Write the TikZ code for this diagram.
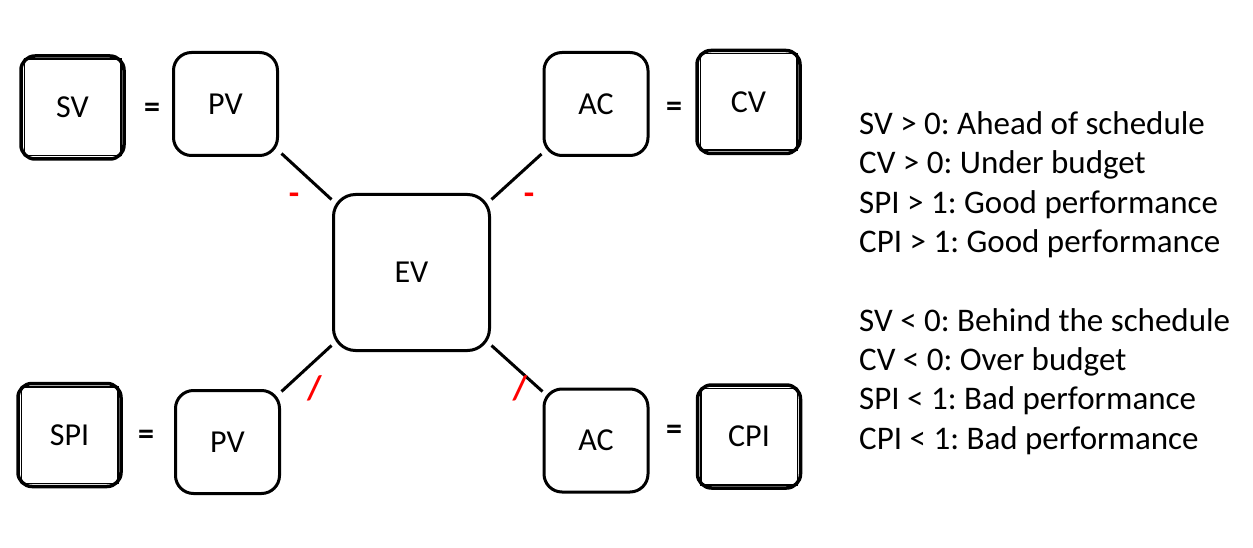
\documentclass[tikz,border=0pt]{standalone}
\usepackage{fontspec}
\setmainfont{Carlito}
\usetikzlibrary{calc}
\frenchspacing
\begin{document}
\begin{tikzpicture}[x=1pt,y=-1pt,
  rbox/.style={draw, line width=3pt, rounded corners=18pt, minimum width=104pt, minimum height=103pt, inner sep=0pt, font=\fontsize{32}{38}\selectfont},
  bigbox/.style={rbox, rounded corners=22pt, minimum width=156pt, minimum height=156pt},
  dbox/.style={rbox, line width=3.5pt, rounded corners=14pt, minimum width=103pt, minimum height=103pt},
  innerline/.style={line width=1.5pt},
  conn/.style={line width=3pt},
  eqsign/.style={font=\fontsize{32}{38}\selectfont\bfseries, inner sep=0pt},
  redsign/.style={text=red, font=\fontsize{34}{38}\selectfont\bfseries, inner sep=0pt},
  legend/.style={align=left, anchor=north west, inner sep=0pt, font=\fontsize{33}{39.3}\selectfont}
]
\useasboundingbox (0,0) rectangle (1253,548);

% top row
\node[dbox] (sv) at (72.5,107.5) {SV};
\node[eqsign] (eq1) at (152,110.5) {=};
\node[rbox] (pv1) at (225.5,104) {PV};
\node[rbox] (ac1) at (596,104) {AC};
\node[eqsign] (eq2) at (674,109) {=};
\node[dbox] (cv) at (748.5,102) {CV};

% centre
\node[bigbox] (ev) at (411.5,272.5) {EV};

% bottom row
\node[dbox] (spi) at (69.5,435) {SPI};
\node[eqsign] (eq3) at (146,437) {=};
\node[rbox] (pv2) at (227.5,442) {PV};
\node[rbox] (ac2) at (596,440.5) {AC};
\node[eqsign] (eq4) at (674,432) {=};
\node[dbox] (cpi) at (749,436.5) {CPI};

% inner lines of the double boxes
\foreach \n in {sv,cv,spi,cpi}
  \draw[innerline] ($(\n.north west)+(5,5)$) rectangle ($(\n.south east)+(-5,-5)$);

% connectors
\draw[conn] ($(pv1.south east)+(2.5,-3.5)$) -- ($(ev.north west)+(-0.5,6.5)$);
\draw[conn] ($(ev.north east)+(0.5,6.5)$) -- ($(ac1.south west)+(-1,-3)$);
\draw[conn] ($(ev.south west)+(-0.5,-6.5)$) -- ($(pv2.north east)+(0.5,2.5)$);
\draw[conn] ($(ev.south east)+(0.5,-6.5)$) -- ($(ac2.north west)+(0,4)$);

% red operators
\node[redsign] (m1) at (294,199) {-};
\node[redsign] (m2) at (529,199) {-};
\node[redsign] (d1) at (314.5,388) {/};
\node[redsign] (d2) at (520,388) {/};

% legend
\node[legend] (txt) at (859,111.5) {SV > 0: Ahead of schedule\\CV > 0: Under budget\\SPI > 1: Good performance\\CPI > 1: Good performance\\[39.3pt]SV < 0: Behind the schedule\\CV < 0: Over budget\\SPI < 1: Bad performance\\CPI < 1: Bad performance};
\end{tikzpicture}
\end{document}
